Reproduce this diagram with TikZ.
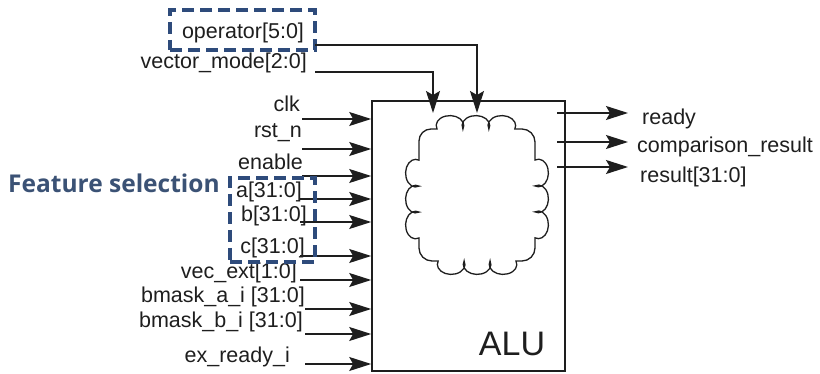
\documentclass[tikz,border=0pt]{standalone}
\usepackage{fontspec}
\setmainfont{Liberation Sans}
\newfontfamily\featfont{Open Sans}
\usetikzlibrary{arrows.meta}
\definecolor{dashblue}{HTML}{2E4B7B}
\definecolor{featblue}{HTML}{3B5275}
\definecolor{ink}{HTML}{1E1E1E}
\begin{document}
\begin{tikzpicture}[x=1pt,y=1pt,yscale=-1,
  lbl/.style={font=\fontsize{21.5}{24}\selectfont, text=ink, inner sep=0pt, text height=15pt, text depth=4pt},
  conn/.style={draw=ink, line width=1.4pt, -{Stealth[length=22pt,width=14pt,inset=4pt]}},
  dbox/.style={draw=dashblue, line width=4pt, dash pattern=on 12pt off 6pt}]
\useasboundingbox (0,0) rectangle (820,374);

% ALU box
\node[draw=ink, line width=1.6pt, minimum width=193pt, minimum height=270pt, inner sep=0pt] (alu) at (468.5,236) {};
\node[font=\fontsize{34}{38}\selectfont, text=ink, inner sep=0pt] (alulbl) at (512,344) {ALU};

% cloud
\draw[draw=ink, line width=1.3pt]
  (419,160) -- (419,141) arc[start angle=180, end angle=270, radius=12]
  -- (437,129)
  arc[start angle=160, end angle=380, x radius=13.8, y radius=10]
  arc[start angle=160, end angle=380, x radius=13.8, y radius=10]
  arc[start angle=160, end angle=380, x radius=13.8, y radius=10]
  -- (522,129) arc[start angle=270, end angle=360, radius=13]
  -- (535,160)
  arc[start angle=250, end angle=470, x radius=10, y radius=13.8]
  arc[start angle=250, end angle=470, x radius=10, y radius=13.8]
  arc[start angle=250, end angle=470, x radius=10, y radius=13.8]
  -- (535,248) arc[start angle=0, end angle=90, radius=13]
  -- (516,261)
  arc[start angle=-20, end angle=200, x radius=13.8, y radius=10]
  arc[start angle=-20, end angle=200, x radius=13.8, y radius=10]
  arc[start angle=-20, end angle=200, x radius=13.8, y radius=10]
  -- (432,261) arc[start angle=90, end angle=180, radius=13]
  -- (419,238)
  arc[start angle=70, end angle=290, x radius=10, y radius=13.8]
  arc[start angle=70, end angle=290, x radius=10, y radius=13.8]
  arc[start angle=70, end angle=290, x radius=10, y radius=13.8]
  -- cycle;

% top inputs
\node[lbl] (op) at (243,33) {operator[5:0]};
\node[dbox, minimum width=145pt, minimum height=40pt, inner sep=0pt] (opbox) at (242.5,30) {};
\node[lbl, anchor=east] (vm) at (307,63) {vector\_mode[2:0]};
\coordinate (ops) at (315,45);
\coordinate (vms) at (315,72);
\coordinate (opt) at (477,113);
\coordinate (vmt) at (433,113);
\draw[conn] (ops) -| (opt);
\draw[conn] (vms) -| (vmt);

% left inputs
\node[lbl, anchor=east] (clk) at (300,106) {clk};
\node[lbl, anchor=east] (rst) at (302,132) {rst\_n};
\node[lbl, anchor=east] (en) at (303,164) {enable};
\node[lbl, anchor=east] (a) at (302,192) {a[31:0]};
\node[lbl, anchor=east] (b) at (307,216) {b[31:0]};
\node[lbl, anchor=east] (c) at (305,248) {c[31:0]};
\node[lbl, anchor=east] (ve) at (297,273) {vec\_ext[1:0]};
\node[lbl, anchor=east] (ba) at (305,297) {bmask\_a\_i [31:0]};
\node[lbl, anchor=east] (bb) at (303,322) {bmask\_b\_i [31:0]};
\node[lbl, anchor=east] (er) at (290,357) {ex\_ready\_i};

\coordinate (s1) at (302,119);
\coordinate (s2) at (302,149);
\coordinate (s3) at (302,176);
\coordinate (s4) at (300,199);
\coordinate (s5) at (300,222);
\coordinate (s6) at (300,256);
\coordinate (s7) at (300,280);
\coordinate (s8) at (305,309);
\coordinate (s9) at (305,334);
\coordinate (s10) at (305,364);
\foreach \s in {s1,s2,s3,s4,s5,s6,s7,s8,s9,s10}
  \draw[conn] (\s) -- (alu.west |- \s);

\node[dbox, minimum width=85pt, minimum height=84pt, inner sep=0pt] (featbox) at (272.5,220) {};
\node[font=\featfont\bfseries\fontsize{24.5}{28}\selectfont, text=featblue, inner sep=0pt, anchor=west] (feat) at (8,183) {Feature selection};

% outputs
\coordinate (r1) at (557,113);
\coordinate (r2) at (557,142);
\coordinate (r3) at (557,167);
\coordinate (t1) at (628,113);
\coordinate (t2) at (628,142);
\coordinate (t3) at (628,167);
\draw[conn] (r1) -- (t1);
\draw[conn] (r2) -- (t2);
\draw[conn] (r3) -- (t3);
\node[lbl, anchor=west] (rdy) at (642,119) {ready};
\node[lbl, anchor=west] (cmp) at (637,147) {comparison\_result};
\node[lbl, anchor=west] (res) at (640,177) {result[31:0]};
\end{tikzpicture}
\end{document}
